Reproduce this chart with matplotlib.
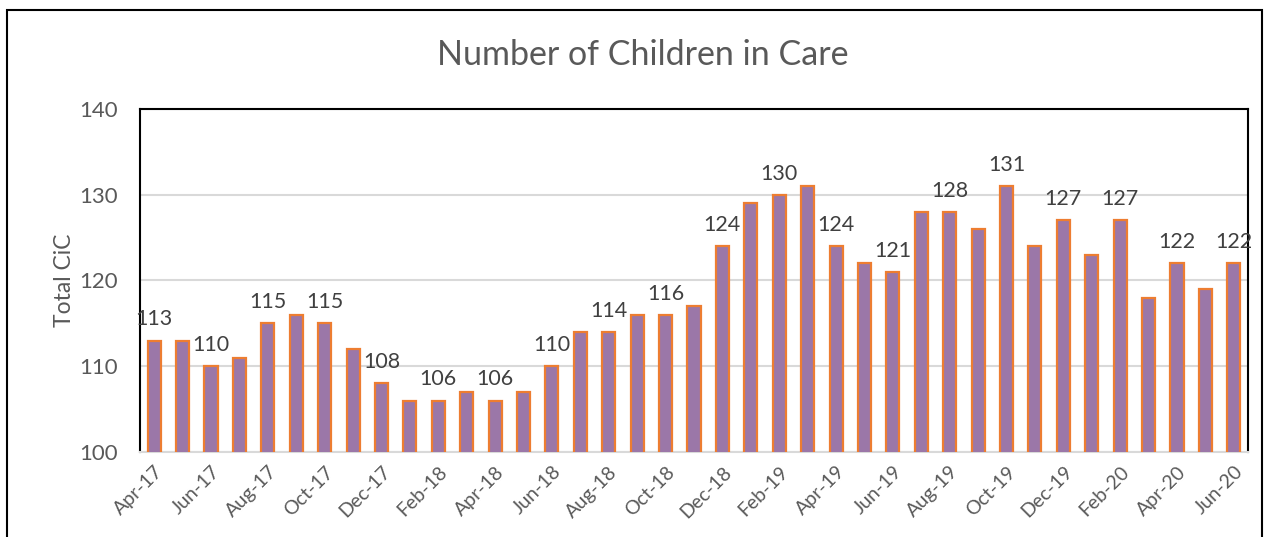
import matplotlib
matplotlib.use("Agg")
import matplotlib.pyplot as plt
from matplotlib.patches import Rectangle
import numpy as np

plt.rcParams['font.family'] = ['Lato', 'DejaVu Sans']

months = ['Apr-17', 'May-17', 'Jun-17', 'Jul-17', 'Aug-17', 'Sep-17', 'Oct-17', 'Nov-17', 'Dec-17',
          'Jan-18', 'Feb-18', 'Mar-18', 'Apr-18', 'May-18', 'Jun-18', 'Jul-18', 'Aug-18', 'Sep-18',
          'Oct-18', 'Nov-18', 'Dec-18', 'Jan-19', 'Feb-19', 'Mar-19', 'Apr-19', 'May-19', 'Jun-19',
          'Jul-19', 'Aug-19', 'Sep-19', 'Oct-19', 'Nov-19', 'Dec-19', 'Jan-20', 'Feb-20', 'Mar-20',
          'Apr-20', 'May-20', 'Jun-20']
total_cic = [113, 113, 110, 111, 115, 116, 115, 112, 108,
             106, 106, 107, 106, 107, 110, 114, 114, 116,
             116, 117, 124, 129, 130, 131, 124, 122, 121,
             128, 128, 126, 131, 124, 127, 123, 127, 118,
             122, 119, 122]

grey = '#595959'
fig = plt.figure(figsize=(12.66, 5.37), dpi=100)
ax = fig.add_axes([140/1266, 1 - 452/537, (1248-140)/1266, (452-109)/537])

x = np.arange(len(months))
ax.bar(x, total_cic, width=0.46, color='#9B77A8', edgecolor='#ED7D31', linewidth=1.6, zorder=3)

# label every second month
for i in range(0, len(months), 2):
    ax.text(x[i], total_cic[i] + 1.3, str(total_cic[i]), ha='center', va='bottom',
            fontsize=15.5, color='#404040', zorder=4)

ax.set_ylim(100, 140)
ax.set_xlim(-0.5, len(months) - 0.5)
ax.set_yticks([100, 110, 120, 130, 140])
ax.set_xticks(x[::2])
ax.set_xticklabels(months[::2], rotation=45, ha='right', rotation_mode='anchor')
ax.tick_params(axis='both', length=0, colors=grey)
ax.tick_params(axis='y', pad=16, labelsize=16)
ax.tick_params(axis='x', pad=8, labelsize=14)
ax.yaxis.grid(True, color='#D9D9D9', linewidth=1.5, zorder=0)

for side in ['left', 'top', 'right']:
    ax.spines[side].set_color('black')
    ax.spines[side].set_linewidth(1.5)
ax.spines['bottom'].set_color('#D9D9D9')
ax.spines['bottom'].set_linewidth(1.5)

ax.set_ylabel('Total CiC', fontsize=16.5, color=grey, labelpad=3)
fig.text(643/1266, 1 - 55/537, 'Number of Children in Care', ha='center', va='center',
         fontsize=24.5, color=grey)

# chart border
fig.patches.append(Rectangle((7/1266, -0.1), (1262-7)/1266, 1.1 - 10/537, transform=fig.transFigure,
                             fill=False, edgecolor='black', linewidth=1.5, clip_on=False))

fig.savefig('out.png', dpi=100)
